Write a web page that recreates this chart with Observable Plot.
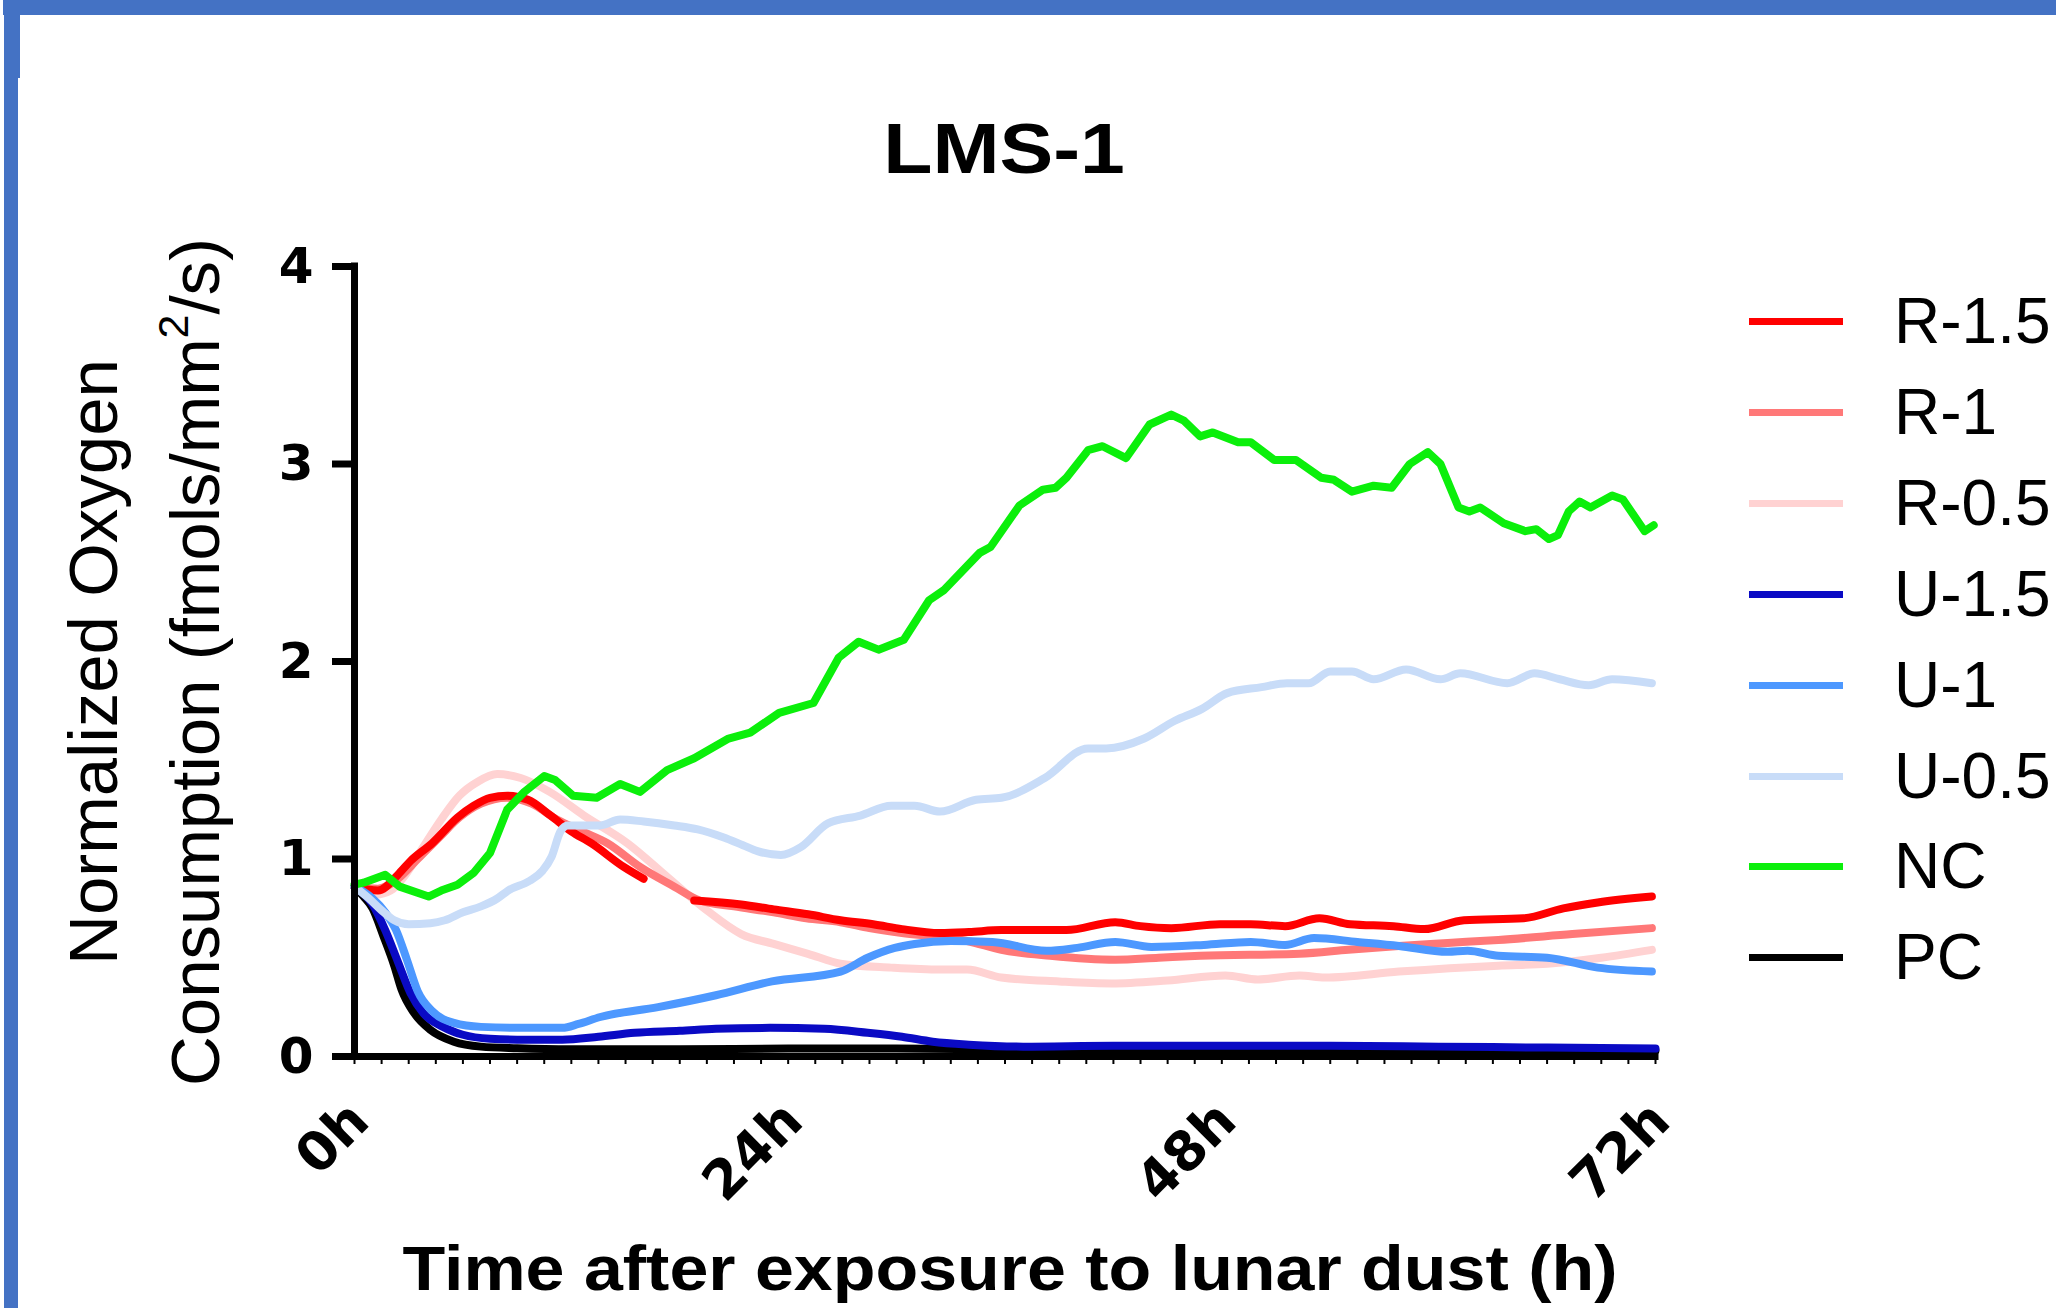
<!DOCTYPE html>
<html><head><meta charset="utf-8">
<script src="https://cdn.jsdelivr.net/npm/d3@7"></script>
<script src="https://cdn.jsdelivr.net/npm/@observablehq/plot@0.6"></script>
<style>
html,body{margin:0;padding:0;background:#fff;}
#page{position:relative;width:2056px;height:1308px;overflow:hidden;background:#fff;font-family:"Liberation Sans",Arial,sans-serif;color:#000;}
.bd{position:absolute;background:#4472C4;}
#chart{position:absolute;left:0;top:0;}
.yt{position:absolute;font-size:69px;line-height:1;white-space:nowrap;transform:translate(-50%,-50%) rotate(-90deg);}
.sup{font-size:0.62em;vertical-align:0.72em;line-height:0;}
#title{position:absolute;left:1004px;top:149px;font-size:70px;font-weight:bold;line-height:1;white-space:nowrap;transform:translate(-50%,-50%) scaleX(1.15);}
#xtitle{position:absolute;left:1010px;top:1268px;font-size:63px;font-weight:bold;line-height:1;white-space:nowrap;transform:translate(-50%,-50%) scaleX(1.11);}
.lgline{position:absolute;left:1749px;width:94px;height:7px;}
.lgtext{position:absolute;left:1894px;font-size:64px;line-height:1;white-space:nowrap;transform:translateY(-50%);}
</style></head>
<body><div id="page">
<div class="bd" style="left:3px;top:0;width:2053px;height:15px;"></div>
<div class="bd" style="left:4px;top:0;width:14px;height:1308px;"></div>
<div class="bd" style="left:4px;top:0;width:16px;height:78px;"></div>
<div id="chart"></div>
<div id="title">LMS-1</div>
<div class="yt" style="left:93px;top:662px;">Normalized Oxygen</div>
<div class="yt" style="left:195px;top:662px;">Consumption (fmols/mm<span class="sup">2</span>/s)</div>
<div id="xtitle">Time after exposure to lunar dust (h)</div>
<div id="legend"></div>
</div>
<script>
// ---- data (hours, normalized oxygen consumption) ----
const seriesNames = ["R-1.5", "R-1", "R-0.5", "U-1.5", "U-1", "U-0.5", "NC", "PC"];
const seriesColors = ["#ff0000", "#ff7878", "#ffd2d2", "#0a0ac4", "#4d98ff", "#c8dcf8", "#0bef0b", "#000000"];
const drawOrder = ["PC", "R-0.5", "R-1", "R-1.5", "U-1.5", "U-1", "U-0.5", "NC"];

const R15 = [[0,0.86],[1.3,0.84],[2.4,0.92],[3.1,0.99],[4.3,1.08],[5.7,1.21],[6.6,1.27],[7.5,1.31],[8.45,1.32],[9.6,1.30],[10.85,1.22],[12,1.14],[13.1,1.08],[14.9,0.96],[16.0,0.90],[17.4,NaN],[18.8,0.79],[21.4,0.77],[23.2,0.745],[25.1,0.72],[26.9,0.69],[28.7,0.67],[30.3,0.645],[32.4,0.625],[34,0.63],[35.8,0.64],[39.4,0.64],[42.1,0.68],[43.5,0.66],[45.2,0.65],[47.9,0.67],[49.6,0.67],[51.5,0.66],[53.4,0.70],[55.1,0.67],[57.5,0.66],[59.2,0.645],[61.4,0.69],[64.7,0.70],[66.9,0.75],[68.8,0.78],[71.8,0.81]];
const R1 = [[0,0.86],[1.3,0.85],[2.4,0.90],[3.5,1.00],[4.8,1.12],[5.8,1.21],[7,1.28],[8.45,1.31],[9.8,1.28],[11.2,1.20],[12.6,1.14],[14.0,1.08],[15.8,0.96],[17.7,0.86],[19.1,0.79],[21,0.76],[23.2,0.73],[25,0.70],[26.9,0.68],[28.5,0.65],[30.3,0.625],[32.4,0.605],[33.9,0.585],[35.8,0.54],[38.5,0.51],[42.1,0.49],[44.5,0.50],[46.8,0.51],[52.3,0.52],[55,0.54],[57.8,0.56],[60.5,0.575],[63.3,0.59],[67.4,0.62],[71.8,0.65]];
const R05 = [[0,0.86],[1.2,0.82],[2.0,0.84],[2.9,0.93],[3.8,1.06],[4.8,1.20],[5.8,1.32],[6.8,1.39],[7.9,1.43],[9.2,1.41],[10.8,1.34],[12.7,1.22],[15.1,1.08],[17.3,0.91],[19.5,0.74],[21.4,0.62],[23.2,0.57],[25.1,0.52],[26.9,0.47],[29.7,0.45],[32.4,0.44],[33.9,0.44],[35.8,0.40],[39,0.38],[41.9,0.37],[45,0.385],[48.2,0.41],[50,0.39],[52.3,0.41],[53.7,0.40],[57.8,0.43],[63.3,0.46],[66,0.47],[69,0.50],[71.8,0.54]];
const U15 = [[0,0.86],[1.0,0.77],[1.7,0.64],[2.4,0.48],[3.1,0.32],[3.8,0.22],[4.9,0.15],[6.0,0.11],[7.5,0.09],[9.5,0.085],[11.5,0.085],[13.5,0.10],[15.5,0.12],[18,0.13],[20,0.14],[23,0.145],[26,0.14],[28.4,0.12],[30.3,0.10],[32,0.075],[34,0.06],[37,0.05],[42,0.055],[48,0.055],[54,0.055],[60,0.05],[66,0.045],[72,0.04]];
const U1 = [[0,0.86],[1,0.80],[1.7,0.73],[2.3,0.64],[2.9,0.49],[3.5,0.33],[4.3,0.23],[5.5,0.17],[7.0,0.15],[9.5,0.145],[11.5,0.145],[12.4,0.165],[13.6,0.20],[16.8,0.25],[20,0.31],[23.1,0.38],[26.9,0.43],[28.4,0.50],[29.9,0.55],[31,0.57],[33,0.585],[35.3,0.58],[38.3,0.535],[40,0.55],[42.1,0.58],[44.1,0.555],[47,0.565],[49.6,0.58],[51.5,0.565],[53.1,0.60],[55.5,0.58],[57.8,0.56],[60.5,0.53],[61.6,0.535],[63.3,0.51],[66,0.50],[68.8,0.45],[71.8,0.43]];
const U05 = [[0,0.86],[0.8,0.80],[1.5,0.74],[2.2,0.69],[3.0,0.67],[4.2,0.675],[5.0,0.69],[6.0,0.73],[7.0,0.76],[7.9,0.80],[8.5,0.84],[9.7,0.89],[10.4,0.94],[10.9,1.01],[11.4,1.14],[11.8,1.17],[13.6,1.17],[14.7,1.20],[16,1.19],[17.7,1.17],[19,1.15],[20.4,1.11],[21.5,1.07],[22.3,1.04],[23.6,1.02],[24.7,1.06],[26.2,1.18],[28,1.22],[29.7,1.27],[31,1.27],[32.4,1.24],[34.4,1.30],[35.8,1.31],[38.2,1.41],[40.6,1.56],[41.6,1.56],[43.7,1.61],[45.4,1.70],[46.9,1.76],[48.3,1.84],[50.2,1.87],[51.6,1.89],[52.8,1.89],[54.0,1.95],[55.2,1.95],[56.4,1.91],[58.2,1.96],[60.1,1.91],[61.2,1.94],[63.8,1.89],[65.3,1.94],[66.7,1.91],[68.3,1.88],[69.6,1.91],[71.8,1.89]];
const NC = [[0,0.87],[0.5,0.88],[1.7,0.92],[2.5,0.86],[4.1,0.81],[4.8,0.84],[5.7,0.87],[6.6,0.93],[7.5,1.03],[8.45,1.25],[9.4,1.34],[10.5,1.42],[11.1,1.40],[12.1,1.32],[13.4,1.31],[14.7,1.38],[15.8,1.34],[17.3,1.45],[18.8,1.51],[20.7,1.61],[21.9,1.64],[23.5,1.74],[25.4,1.79],[26.8,2.02],[27.9,2.10],[29.0,2.06],[30.4,2.11],[31.8,2.31],[32.6,2.36],[34.6,2.55],[35.2,2.58],[36.8,2.79],[38.1,2.87],[38.8,2.88],[39.4,2.93],[40.6,3.07],[41.4,3.09],[42.7,3.03],[44.0,3.20],[45.2,3.25],[45.9,3.22],[46.8,3.14],[47.5,3.16],[48.9,3.11],[49.6,3.11],[50.9,3.02],[52.1,3.02],[53.5,2.93],[54.2,2.92],[55.2,2.86],[56.4,2.89],[57.4,2.88],[58.4,3.00],[59.4,3.06],[60.1,3.00],[61.1,2.78],[61.7,2.76],[62.3,2.78],[63.6,2.70],[64.8,2.66],[65.4,2.67],[66.1,2.62],[66.6,2.64],[67.2,2.76],[67.8,2.81],[68.4,2.78],[69.6,2.84],[70.2,2.82],[71.4,2.66],[71.9,2.69]];
const PC = [[0,0.86],[0.5,0.81],[1.0,0.75],[1.6,0.61],[2.2,0.46],[2.6,0.34],[3.3,0.22],[4.2,0.135],[5.5,0.075],[7.0,0.05],[9,0.042],[12,0.037],[18,0.037],[24,0.04],[30,0.04],[36,0.036],[42,0.035],[48,0.035],[54,0.032],[60,0.032],[66,0.03],[72,0.03]];

const seriesValues = [R15, R1, R05, U15, U1, U05, NC, PC];

const xTicks = [0, 24, 48, 72];
const xTickLabels = ["0h", "24h", "48h", "72h"];
const xMinorTicks = d3.range(0, 72.001, 1.5);
const yTicks = [0, 1, 2, 3, 4];

// ---- build ----
const colorOf = Object.fromEntries(seriesNames.map((n, i) => [n, seriesColors[i]]));
const rows = [];
seriesNames.forEach((name, i) => seriesValues[i].forEach(([h, v]) => rows.push({name, h, v})));

const font = "Liberation Sans, Arial, sans-serif";
const tickFont = "DejaVu Sans, Liberation Sans, Arial, sans-serif";
const chart = Plot.plot({
  width: 1700,
  height: 1200,
  marginLeft: 354,
  marginRight: 45,
  marginTop: 266,
  marginBottom: 144,
  style: {fontFamily: font, background: "transparent", color: "#000", overflow: "visible"},
  x: {domain: [0, 72]},
  y: {domain: [0, 4]},
  marks: [
    ...drawOrder.map(name => Plot.line(rows.filter(d => d.name === name), {
      x: "h", y: "v", stroke: colorOf[name], strokeWidth: 8,
      curve: name === "NC" ? "linear" : "monotone-x", strokeLinejoin: "round"
    })),
    Plot.axisX({ticks: xMinorTicks, tickSize: 8, strokeWidth: 2, tickFormat: () => "", label: null}),
    Plot.axisX({ticks: xTicks, tickSize: 0, tickPadding: 55, dx: 5, tickRotate: -45, fontSize: 54, fontWeight: "bold",
      fontFamily: tickFont, tickFormat: d => xTickLabels[xTicks.indexOf(d)], label: null}),
    Plot.axisY({ticks: yTicks, tickSize: 22, tickPadding: 19, strokeWidth: 7, fontSize: 50, fontWeight: "bold",
      fontFamily: tickFont, tickFormat: d => String(d), label: null}),
    Plot.ruleX([0], {strokeWidth: 7, strokeLinecap: "square"}),
    Plot.ruleY([0], {strokeWidth: 7, strokeLinecap: "square"})
  ]
});
document.getElementById("chart").appendChild(chart);

// ---- legend ----
const legendY = [321, 412, 503, 594, 685, 776, 866, 957];
const lg = document.getElementById("legend");
seriesNames.forEach((name, i) => {
  const l = document.createElement("div");
  l.className = "lgline";
  l.style.top = (legendY[i] - 3.5) + "px";
  l.style.background = seriesColors[i];
  lg.appendChild(l);
  const t = document.createElement("div");
  t.className = "lgtext";
  t.style.top = legendY[i] + "px";
  t.textContent = name;
  lg.appendChild(t);
});
</script>
</body></html>
